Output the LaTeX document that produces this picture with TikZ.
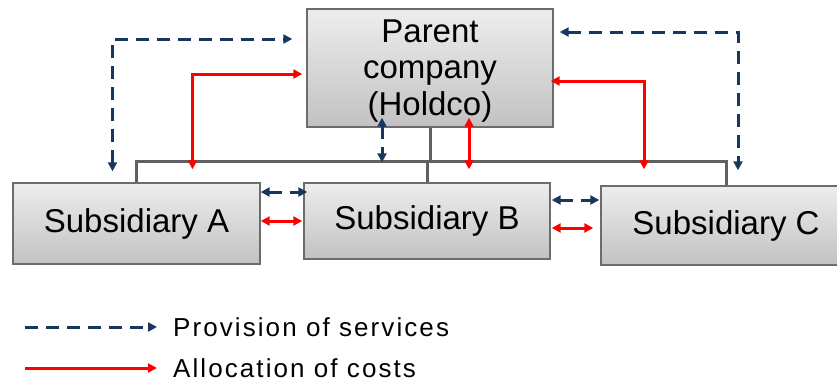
\documentclass[tikz,border=0pt]{standalone}
\usepackage{fontspec}
\setmainfont{Liberation Sans}
\usepackage{tikz}
\usetikzlibrary{arrows.meta,calc}
\definecolor{svcblue}{HTML}{17375E}
\definecolor{orggray}{HTML}{606060}
\tikzset{
  orgbox/.style  = {draw=gray!85!black, line width=1.4pt, top color=gray!14,
                    bottom color=gray!48, inner sep=0pt, align=center,
                    font=\fontsize{33}{36.5}\selectfont},
  boxtext/.style = {inner sep=0pt, align=center, font=\fontsize{33}{36.5}\selectfont},
  svcar/.style   = {{Triangle[length=9pt,width=9pt]}-{Triangle[length=9pt,width=9pt]},
                    svcblue, line width=3pt, dash pattern=on 13pt off 8pt},
  costar/.style  = {{Triangle[length=9pt,width=9pt]}-{Triangle[length=9pt,width=9pt]},
                    red, line width=3pt},
  oneway/.style  = {-{Triangle[length=9pt,width=9pt]}},
  orgline/.style = {orggray, line width=3pt},
  legtext/.style = {inner sep=0pt, anchor=base west,
                    font=\fontsize{26}{30}\selectfont\addfontfeature{LetterSpace=8}}
}

\begin{document}
\begin{tikzpicture}[x=1pt,y=1pt]
  \useasboundingbox (0,0) rectangle (837,-383);
  % boxes
  \node[orgbox, minimum width=246, minimum height=118] (parent) at (430,-68) {};
  \node[boxtext] (parenttxt) at ([yshift=-3]parent.center)
        {Parent\\company\\(Holdco)};
  \node[orgbox, minimum width=247, minimum height=81] (subA) at (136.5,-223.5)
        {Subsidiary A};
  \node[orgbox, minimum width=246, minimum height=76] (subB) at (427,-221)
        {Subsidiary B};
  \node[orgbox, minimum width=250, minimum height=79] (subC) at (726,-225.5)
        {Subsidiary C};
  % group structure
  \coordinate (bus) at (0,-161);
  \draw[orgline] (subA.north) |- (subA.north |- bus) -| (subC.north);
  \draw[orgline] (parent.south) -- (parent.south |- bus);
  \draw[orgline] (subB.north) -- (subB.north |- bus);
  % services
  \draw[svcar] ([shift={(-24,11)}]subA.north) |- ([shift={(-14,29)}]parent.west);
  \draw[svcar] ([shift={(6,36)}]parent.east) -| ([shift={(12,15)}]subC.north);
  \draw[svcar] ([shift={(-48,10)}]parent.south) -- ([shift={(-45,20)}]subB.north);
  \draw[svcar] ([shift={(0,31.5)}]subA.east) -- ([shift={(4,29)}]subB.west);
  \draw[svcar] ([shift={(1,21)}]subB.east) -- ([shift={(-1,25.5)}]subC.west);
  % costs
  \draw[costar] ([shift={(56,13)}]subA.north) |- ([shift={(-4,-6)}]parent.west);
  \draw[costar] ([shift={(-3,-13)}]parent.east) -| ([shift={(-82,16)}]subC.north);
  \draw[costar] ([shift={(39,10)}]parent.south) -- ([shift={(42,13)}]subB.north);
  \draw[costar] ([shift={(0,2.5)}]subA.east) -- ([shift={(-1,0)}]subB.west);
  \draw[costar] ([shift={(1,-7)}]subB.east) -- ([shift={(-7,-2.5)}]subC.west);
  % legend
  \node[legtext] (svctxt) at (173,-336) {Provision of services};
  \node[legtext] (costtxt) at (173,-377) {Allocation of costs};
  \coordinate (svcstart) at (25,-327);
  \coordinate (coststart) at (25,-368);
  \draw[svcar, oneway] (svcstart) -- ($(svcstart -| svctxt.west)+(-16,0)$);
  \draw[costar, oneway] (coststart) -- ($(coststart -| costtxt.west)+(-16,0)$);
\end{tikzpicture}
\end{document}
